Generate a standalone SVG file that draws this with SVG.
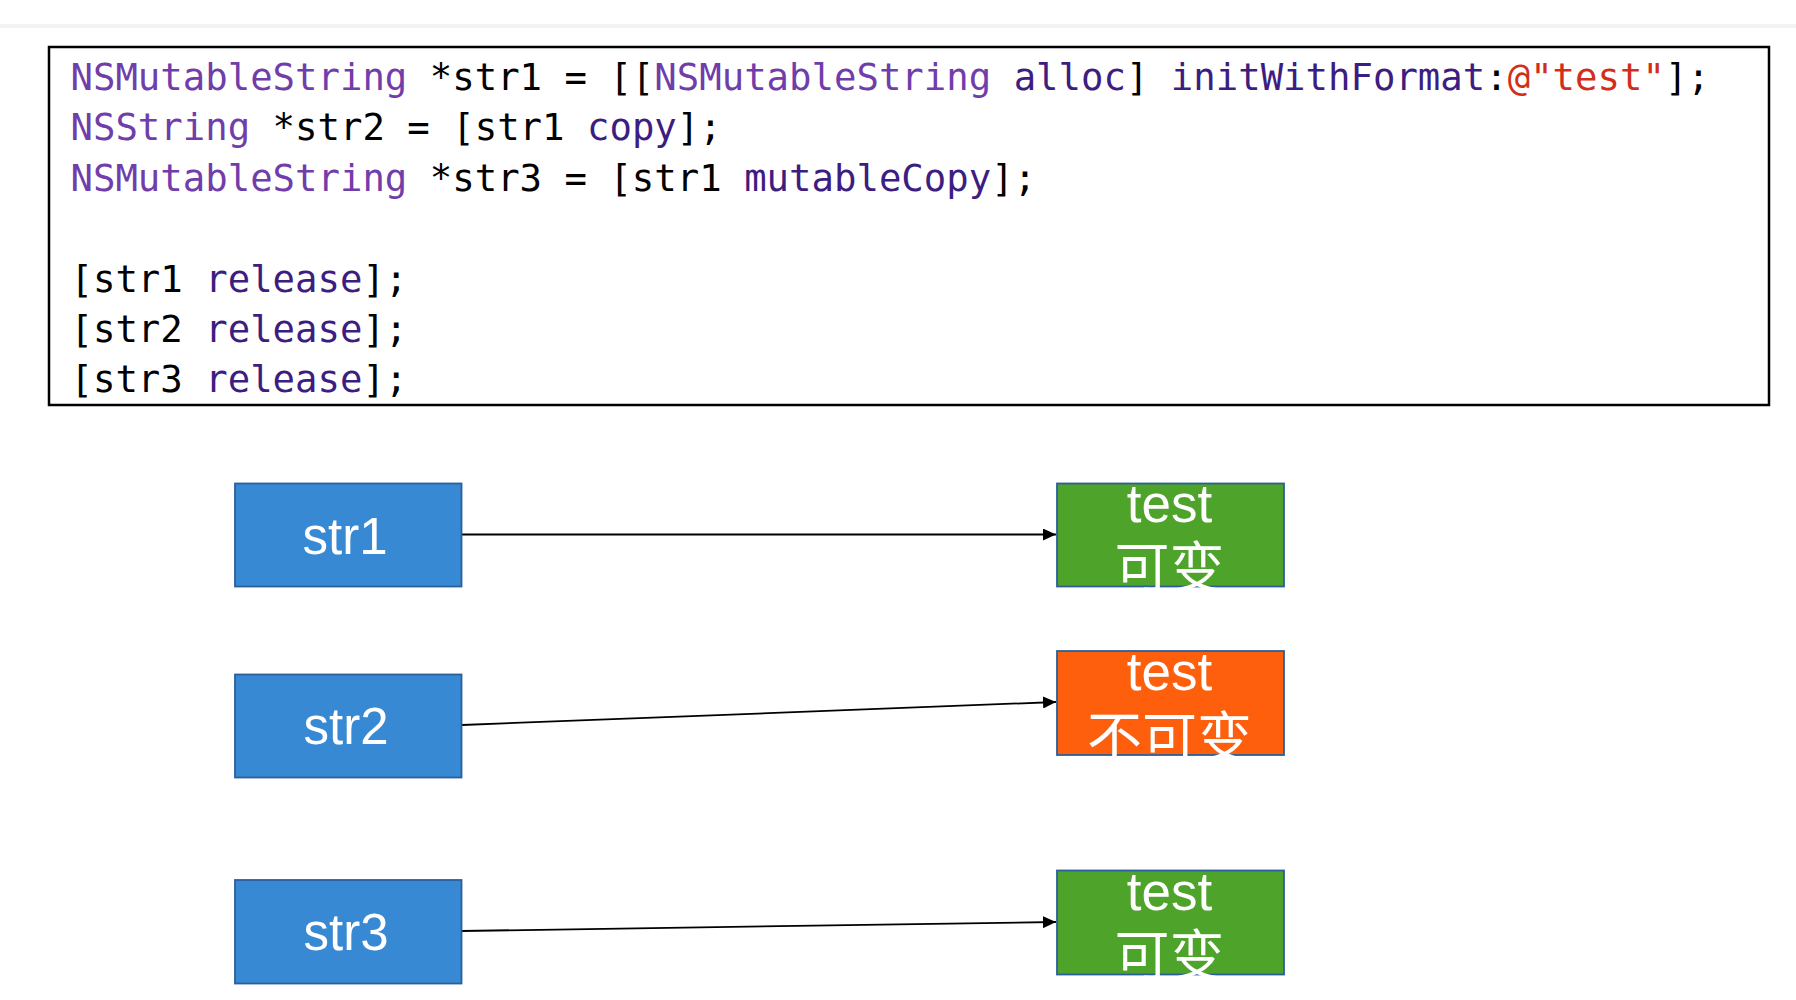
<svg xmlns="http://www.w3.org/2000/svg" width="1796" height="1000" viewBox="0 0 1796 1000">
<style>
.code{font-family:"DejaVu Sans Mono","Liberation Mono",monospace;font-size:37.3px;fill:#000}
.cls{fill:#703daa}
.mth{fill:#3d1d81}
.str{fill:#d12f1b}
.var rect{fill:#3889d4;stroke:#2b5f99;stroke-width:1.8}
.mut rect{fill:#4ea32a;stroke:#2b5f99;stroke-width:1.8}
.imm rect{fill:#fd5f0d;stroke:#2b5f99;stroke-width:1.8}
.lbl{font-family:"Liberation Sans",Arial,sans-serif;fill:#fff;text-anchor:middle}
.cjk{font-family:"Noto Sans CJK SC",sans-serif;fill:#fff;text-anchor:middle;font-size:55px}
.conn line{stroke:#000;stroke-width:1.8;fill:none}
</style>
<defs>
<marker id="ah" markerUnits="userSpaceOnUse" markerWidth="14" markerHeight="12" refX="13" refY="6" orient="auto">
<path d="M0,0 L13,6 L0,12 z" fill="#000"/>
</marker>
</defs>
<rect x="0" y="0" width="1796" height="1000" fill="#fff"/>
<rect x="0" y="24" width="1796" height="4" fill="#f3f3f3"/>
<g id="code">
<rect x="49" y="47" width="1720" height="358" fill="#fff" stroke="#000" stroke-width="2.5"/>
<text class="code" x="70.5" y="90" xml:space="preserve"><tspan class="cls">NSMutableString</tspan> *str1 = [[<tspan class="cls">NSMutableString</tspan> <tspan class="mth">alloc</tspan>] <tspan class="mth">initWithFormat</tspan>:<tspan class="str">@"test"</tspan>];</text>
<text class="code" x="70.5" y="140.4" xml:space="preserve"><tspan class="cls">NSString</tspan> *str2 = [str1 <tspan class="mth">copy</tspan>];</text>
<text class="code" x="70.5" y="190.8" xml:space="preserve"><tspan class="cls">NSMutableString</tspan> *str3 = [str1 <tspan class="mth">mutableCopy</tspan>];</text>
<text class="code" x="70.5" y="291.6" xml:space="preserve">[str1 <tspan class="mth">release</tspan>];</text>
<text class="code" x="70.5" y="342" xml:space="preserve">[str2 <tspan class="mth">release</tspan>];</text>
<text class="code" x="70.5" y="392.4" xml:space="preserve">[str3 <tspan class="mth">release</tspan>];</text>
</g>
<g class="conn" id="connectors">
<line x1="462" y1="534.5" x2="1056" y2="534.5" marker-end="url(#ah)"/>
<line x1="462" y1="725" x2="1056" y2="702" marker-end="url(#ah)"/>
<line x1="462" y1="931" x2="1056" y2="922" marker-end="url(#ah)"/>
</g>
<g id="str1" class="var">
<rect x="235" y="483.5" width="226.5" height="103"/>
<text class="lbl" x="345" y="554" font-size="51">str1</text>
</g>
<g id="str2" class="var">
<rect x="235" y="674.5" width="226.5" height="103"/>
<text class="lbl" x="346" y="744" font-size="51">str2</text>
</g>
<g id="str3" class="var">
<rect x="235" y="880" width="226.5" height="103.5"/>
<text class="lbl" x="346" y="950" font-size="51">str3</text>
</g>
<g id="obj1" class="mut">
<rect x="1057" y="483.5" width="227" height="103"/>
<text class="lbl" x="1169.5" y="522" font-size="53">test</text>
<text class="cjk" x="1169.5" y="587">可变</text>
</g>
<g id="obj2" class="imm">
<rect x="1057" y="651" width="227" height="104"/>
<text class="lbl" x="1169.5" y="690" font-size="53">test</text>
<text class="cjk" x="1169.5" y="757" font-size="57">不可变</text>
</g>
<g id="obj3" class="mut">
<rect x="1057" y="870.5" width="227" height="104"/>
<text class="lbl" x="1169.5" y="910" font-size="53">test</text>
<text class="cjk" x="1169.5" y="975">可变</text>
</g>
</svg>
